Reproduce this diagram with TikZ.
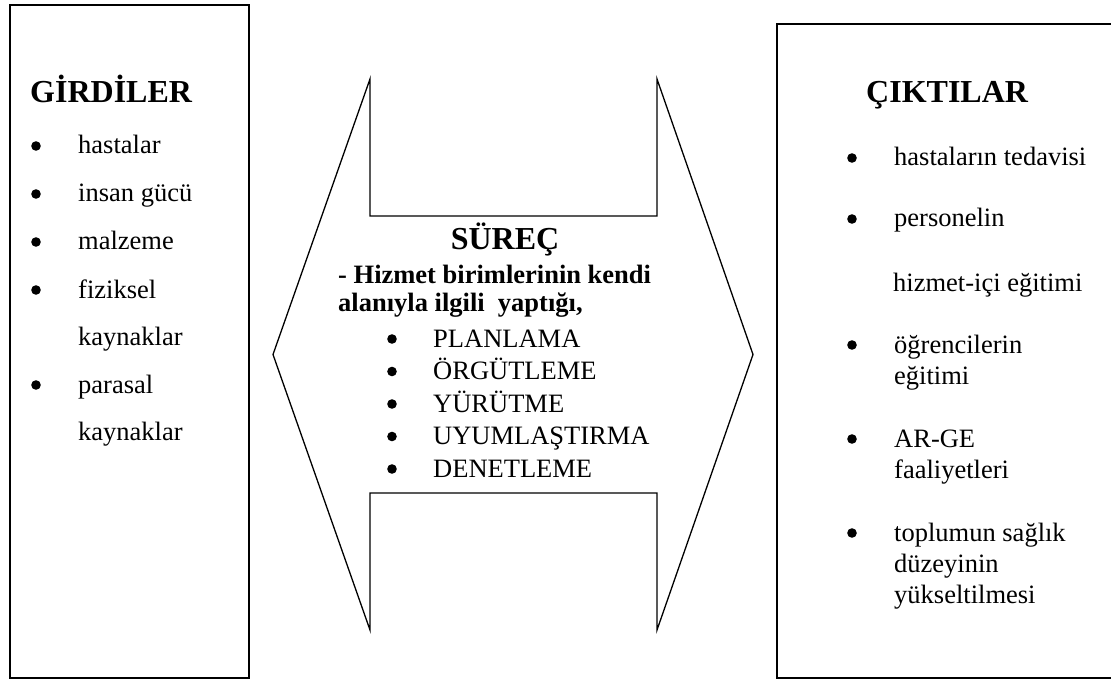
\documentclass[tikz,border=0pt]{standalone}
\usepackage{fontspec}
\setmainfont{Liberation Serif}
\begin{document}
\begin{tikzpicture}[x=1pt,y=-1pt,
  frame/.style={draw=black, line width=1.8pt},
  flow/.style={draw=black, line width=1.3pt, line join=miter},
  head/.style={anchor=base west, inner sep=0pt, font=\fontsize{32}{38}\selectfont\bfseries},
  item/.style={anchor=base west, inner sep=0pt, font=\fontsize{26.5}{32}\selectfont},
  bitem/.style={anchor=base west, inner sep=0pt, font=\fontsize{26.5}{32}\selectfont\bfseries},
  dot/.style={circle, fill=black, inner sep=0pt, minimum size=9.6pt, yshift=8pt},
]
\clip (0,0) rectangle (1111,679);

% input and output frames
\draw[frame] (10,5) rectangle (249,678);
\draw[frame] (777,24) rectangle (1130,678);

% double-headed process arrow
\draw[flow] (370,79) -- (370,216) -- (657,216) -- (657,79) -- (753,354.5)
  -- (657,630) -- (657,493) -- (370,493) -- (370,630) -- (273,354.5) -- cycle;

% inputs
\node[head] (gir) at (30,103) {GİRDİLER};
\node[dot] (g1b) at (36,154) {};
\node[item] (g1) at (78,154) {hastalar};
\node[dot] (g2b) at (36,202) {};
\node[item] (g2) at (78,202) {insan gücü};
\node[dot] (g3b) at (36,250) {};
\node[item] (g3) at (78,250) {malzeme};
\node[dot] (g4b) at (36,298) {};
\node[item] (g4) at (78,298) {fiziksel};
\node[item] (g4c) at (78,345) {kaynaklar};
\node[dot] (g5b) at (36,393) {};
\node[item] (g5) at (78,393) {parasal};
\node[item] (g5c) at (78,440) {kaynaklar};

% process
\node[head, anchor=base] (sur) at (505,250) {SÜREÇ};
\node[bitem] (s1) at (338,283) {- Hizmet birimlerinin kendi};
\node[bitem] (s2) at (338,311) {alanıyla ilgili\ \ yaptığı,};
\node[dot] (p1b) at (392,347) {};
\node[item] (p1) at (433,347) {PLANLAMA};
\node[dot] (p2b) at (392,379.5) {};
\node[item] (p2) at (433,379.5) {ÖRGÜTLEME};
\node[dot] (p3b) at (392,412) {};
\node[item] (p3) at (433,412) {YÜRÜTME};
\node[dot] (p4b) at (392,444.5) {};
\node[item] (p4) at (433,444.5) {UYUMLAŞTIRMA};
\node[dot] (p5b) at (392,477) {};
\node[item] (p5) at (433,477) {DENETLEME};

% outputs
\node[head] (cik) at (866,103) {ÇIKTILAR};
\node[dot] (c1b) at (852,166) {};
\node[item] (c1) at (894,166) {hastaların tedavisi};
\node[dot] (c2b) at (852,227) {};
\node[item] (c2) at (894,227) {personelin};
\node[item] (c2c) at (893,291) {hizmet-içi eğitimi};
\node[dot] (c3b) at (852,353) {};
\node[item] (c3) at (894,353) {öğrencilerin};
\node[item] (c3c) at (894,384) {eğitimi};
\node[dot] (c4b) at (852,447) {};
\node[item] (c4) at (894,447) {AR-GE};
\node[item] (c4c) at (894,478) {faaliyetleri};
\node[dot] (c5b) at (852,541) {};
\node[item] (c5) at (894,541) {toplumun sağlık};
\node[item] (c5c) at (894,572) {düzeyinin};
\node[item] (c5d) at (894,603) {yükseltilmesi};
\end{tikzpicture}
\end{document}
